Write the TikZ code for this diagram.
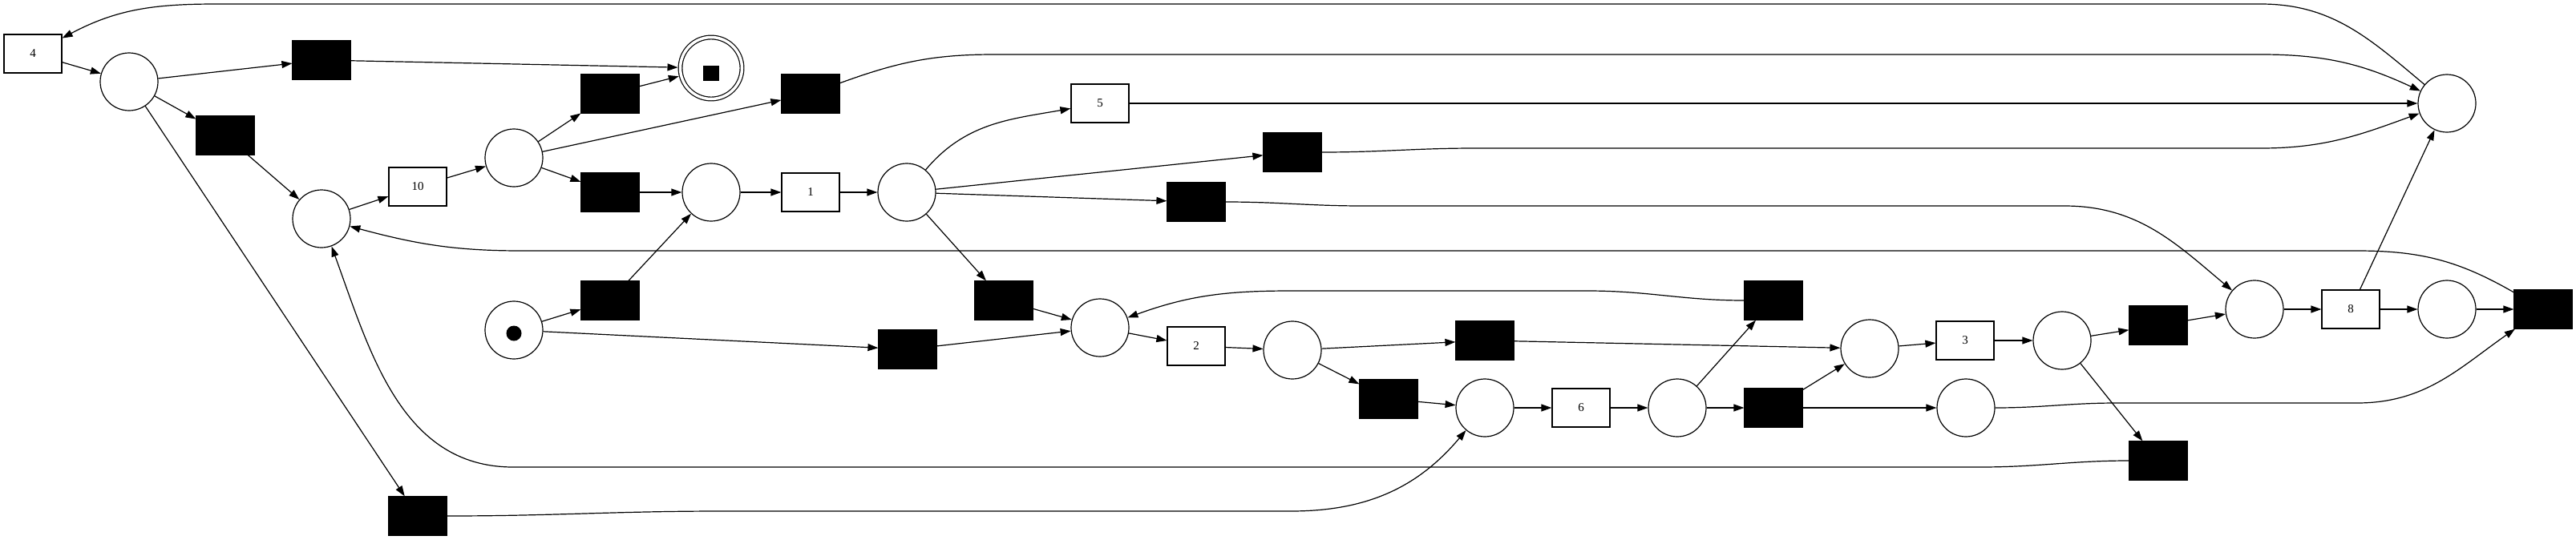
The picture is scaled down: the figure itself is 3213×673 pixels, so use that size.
\documentclass[tikz,border=0pt]{standalone}
\usepackage{fontspec}
\setmainfont{Liberation Serif}
\usetikzlibrary{arrows.meta}

\tikzset{   plc/.style={draw,circle,fill=white,minimum size=72pt,inner sep=0pt,line width=1.2pt},
            plcfin/.style={draw,circle,fill=white,double,double distance=3.5pt,minimum size=77pt,inner sep=0pt,line width=1.2pt,outer sep=3pt},
            trwhite/.style={draw,rectangle,fill=white,minimum width=72pt,minimum height=48pt,inner sep=0pt,line width=1.2pt,font=\fontsize{15}{15}\selectfont},
            trblack/.style={draw,rectangle,fill=black,minimum width=72pt,minimum height=48pt,inner sep=0pt,line width=1.2pt},
            flow/.style={-{Triangle[length=13pt,width=9pt]},line width=1.2pt},
}

\begin{document}
\begin{tikzpicture}[x=1pt,y=1pt,line width=1.2pt]
    \useasboundingbox (0,0) rectangle (3213,-673);

    \node[trwhite] (t4) at (41,-67) {4};   % upper row
    \node[plc] (pa) at (161,-102) {};
    \node[trblack] (b1) at (401,-75) {};
    \node[trblack] (b2) at (281,-169) {};
    \node[plc] (pb) at (401,-273) {};
    \node[trwhite] (t10) at (521,-233) {10};
    \node[plc] (pc) at (641,-197) {};
    \node[trblack] (b3) at (761,-117) {};
    \node[trblack] (b4) at (761,-240) {};
    \node[plcfin] (fin) at (887,-85) {};
    \node[plc] (pd) at (887,-240) {};
    \node[trwhite] (t1) at (1011,-240) {1};
    \node[trblack] (b5) at (1011,-117) {};
    \node[plc] (pe) at (1131,-240) {};
    \node[trwhite] (t5) at (1372,-129) {5};
    \node[trblack] (b6) at (1612,-190) {};
    \node[trblack] (b7) at (1492,-252) {};
    \node[plc] (pf) at (3052,-129) {};

    \node[plc] (p0) at (641,-412) {};   % lower rows
    \node[trblack] (b8) at (761,-375) {};
    \node[trblack] (b9) at (521,-644) {};
    \node[trblack] (b10) at (1252,-375) {};
    \node[trblack] (b11) at (1132,-436) {};
    \node[plc] (pg) at (1372,-409) {};
    \node[trwhite] (t2) at (1492,-432) {2};
    \node[plc] (ph) at (1612,-437) {};
    \node[trblack] (b12) at (1732,-498) {};
    \node[trblack] (b13) at (2212,-375) {};
    \node[trblack] (b14) at (1852,-425) {};
    \node[plc] (pi) at (1852,-509) {};
    \node[trwhite] (t6) at (1972,-509) {6};
    \node[plc] (pj) at (2092,-509) {};
    \node[trblack] (b15) at (2212,-509) {};
    \node[plc] (pk) at (2332,-435) {};
    \node[trwhite] (t3) at (2451,-425) {3};
    \node[plc] (pl) at (2572,-425) {};
    \node[trblack] (b16) at (2692,-406) {};
    \node[plc] (pm) at (2812,-386) {};
    \node[trwhite] (t8) at (2932,-386) {8};
    \node[plc] (pn) at (3052,-386) {};
    \node[trblack] (b17) at (3172,-386) {};
    \node[plc] (po) at (2452,-509) {};
    \node[trblack] (b18) at (2692,-575) {};

    \fill ([yshift=-4pt]p0.center) circle (9.5pt);   % tokens
    \fill ([shift={(-10pt,-16pt)}]fin.center) rectangle ++(20pt,19pt);

    \draw[flow] (t4) -- (pa);   % straight arcs
    \draw[flow] (pa) -- (b1);
    \draw[flow] (pa) -- (b2);
    \draw[flow] (pa) -- (b9);
    \draw[flow] (b2) -- (pb);
    \draw[flow] (pb) -- (t10);
    \draw[flow] (t10) -- (pc);
    \draw[flow] (pc) -- (b3);
    \draw[flow] (pc) -- (b5);
    \draw[flow] (pc) -- (b4);
    \draw[flow] (b1) -- (fin);
    \draw[flow] (b3) -- (fin);
    \draw[flow] (b4) -- (pd);
    \draw[flow] (pd) -- (t1);
    \draw[flow] (t1) -- (pe);
    \draw[flow] (pe) -- (b6);
    \draw[flow] (pe) -- (b7);
    \draw[flow] (pe) -- (b10);
    \draw[flow] (t5) -- (pf);
    \draw[flow] (p0) -- (b8);
    \draw[flow] (p0) -- (b11);
    \draw[flow] (b8) -- (pd);
    \draw[flow] (b10) -- (pg);
    \draw[flow] (b11) -- (pg);
    \draw[flow] (pg) -- (t2);
    \draw[flow] (t2) -- (ph);
    \draw[flow] (ph) -- (b14);
    \draw[flow] (ph) -- (b12);
    \draw[flow] (b12) -- (pi);
    \draw[flow] (pi) -- (t6);
    \draw[flow] (t6) -- (pj);
    \draw[flow] (pj) -- (b13);
    \draw[flow] (pj) -- (b15);
    \draw[flow] (b15) -- (pk);
    \draw[flow] (b15) -- (po);
    \draw[flow] (b14) -- (pk);
    \draw[flow] (pk) -- (t3);
    \draw[flow] (t3) -- (pl);
    \draw[flow] (pl) -- (b16);
    \draw[flow] (pl) -- (b18);
    \draw[flow] (b16) -- (pm);
    \draw[flow] (pm) -- (t8);
    \draw[flow] (t8) -- (pn);
    \draw[flow] (t8) -- (pf);
    \draw[flow] (pn) -- (b17);

    \draw[flow] (pe) to[out=50,in=190] (t5);   % curved arcs
    \draw[flow] (pf) to[out=140,in=0] (2820,-5) -- (270,-5) to[out=180,in=28] (t4);
    \draw[flow] (b5) to[out=20,in=180] (1240,-68) -- (2820,-68) to[out=0,in=155] (pf);
    \draw[flow] (b6) to[out=0,in=180] (1840,-185) -- (2820,-185) to[out=0,in=200] (pf);
    \draw[flow] (b7) to[out=0,in=180] (1700,-257) -- (2575,-257) to[out=0,in=140] (pm);
    \draw[flow] (b17) to[out=150,in=0] (2940,-313) -- (650,-313) to[out=180,in=-15] (pb);
    \draw[flow] (b18) to[out=180,in=0] (2470,-583) -- (640,-583) to[out=180,in=-70] (pb);
    \draw[flow] (b9) to[out=0,in=180] (900,-638) -- (1610,-638) to[out=0,in=230] (pi);
    \draw[flow] (po) to[out=0,in=180] (2640,-503) -- (2940,-503) to[out=0,in=215] (b17);
    \draw[flow] (b13) to[out=180,in=0] (1980,-363) -- (1610,-363) to[out=180,in=20] (pg);
\end{tikzpicture}
\end{document}
